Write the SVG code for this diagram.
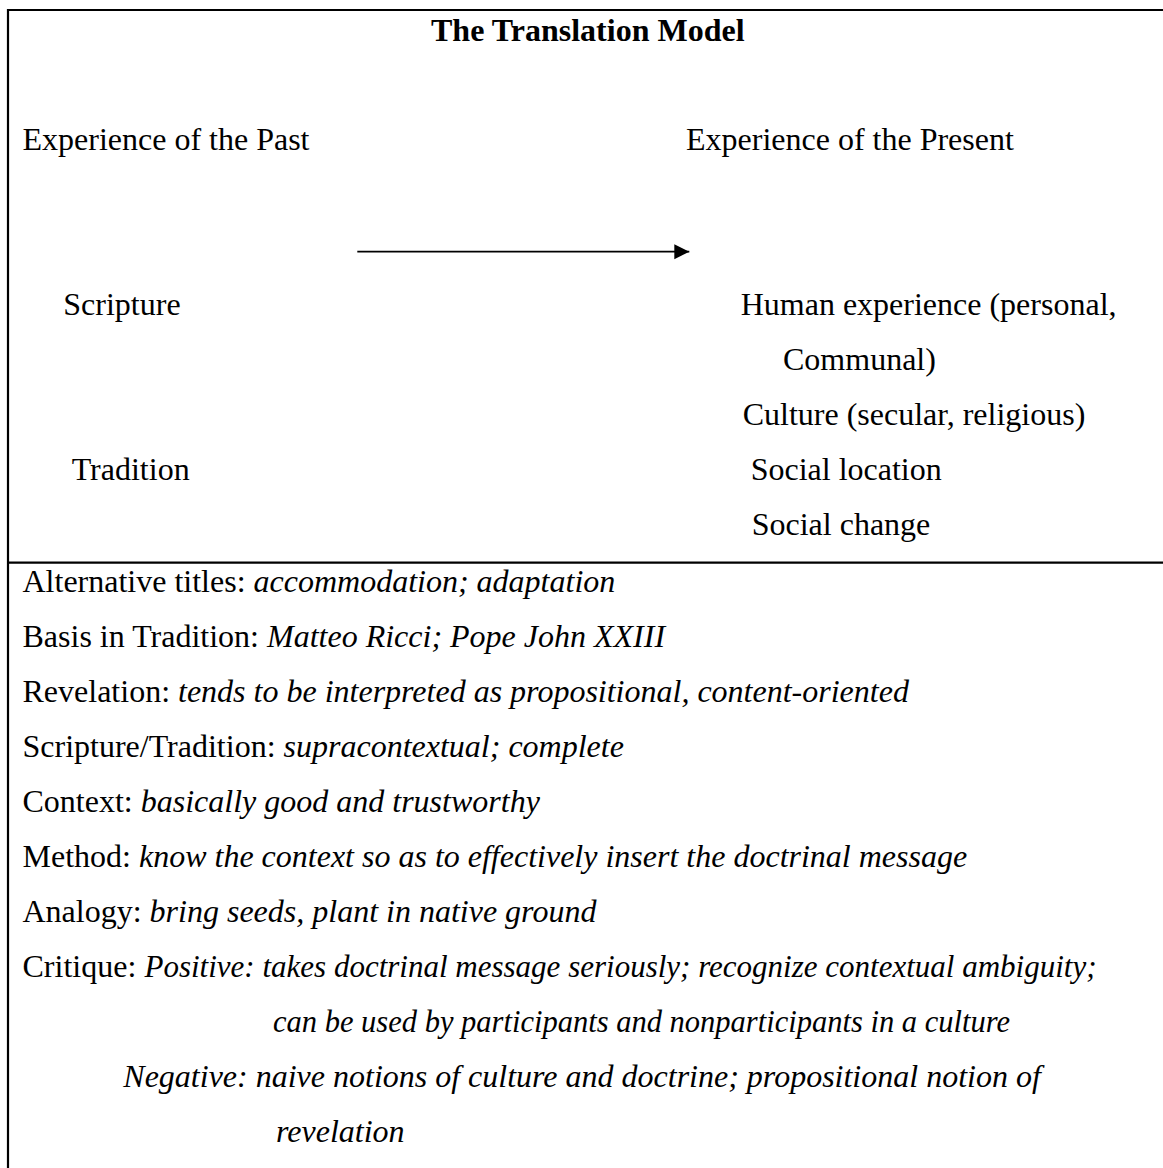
<svg xmlns="http://www.w3.org/2000/svg" width="1163" height="1168" viewBox="0 0 1163 1168">
<style>
text{font-family:"Liberation Serif","Times New Roman",serif;font-size:32px;fill:#000}
.b{font-weight:bold}
.i{font-style:italic}
.frame{stroke:#000;stroke-width:2.2;fill:none}
.conn{stroke:#000;stroke-width:1.8;fill:none}
</style>
<defs>
<marker id="ah" markerUnits="userSpaceOnUse" markerWidth="16" markerHeight="16" refX="15" refY="7.5" orient="auto">
<path d="M0,0 L15,7.5 L0,15 Z" fill="#000"/>
</marker>
</defs>
<rect width="1163" height="1168" fill="#fff"/>
<g id="frame">
<line class="frame" x1="8" y1="10" x2="1163" y2="10"/>
<line class="frame" x1="8" y1="9" x2="8" y2="1168"/>
<line class="frame" x1="8" y1="562.7" x2="1163" y2="562.7"/>
</g>
<g id="title"><text class="b" x="431" y="41">The Translation Model</text></g>
<g id="past"><text x="22.5" y="150">Experience of the Past</text></g>
<g id="present"><text x="686" y="150">Experience of the Present</text></g>
<g id="scripture"><text x="63.3" y="315">Scripture</text></g>
<g id="tradition"><text x="71.7" y="480">Tradition</text></g>
<g id="human"><text x="740.7" y="315">Human experience (personal,</text><text x="783" y="370">Communal)</text></g>
<g id="culture"><text x="742.7" y="425">Culture (secular, religious)</text></g>
<g id="location"><text x="750.7" y="480">Social location</text></g>
<g id="change"><text x="751.7" y="535">Social change</text></g>
<g id="connectors">
<line class="conn" x1="357.3" y1="251.7" x2="689.3" y2="251.7" marker-end="url(#ah)"/>
</g>
<g id="details">
<text x="22.5" y="592">Alternative titles: <tspan class="i">accommodation; adaptation</tspan></text>
<text x="22.5" y="647">Basis in Tradition: <tspan class="i">Matteo Ricci; Pope John XXIII</tspan></text>
<text x="22.5" y="702">Revelation: <tspan class="i">tends to be interpreted as propositional, content-oriented</tspan></text>
<text x="22.5" y="757">Scripture/Tradition: <tspan class="i">supracontextual; complete</tspan></text>
<text x="22.5" y="812">Context: <tspan class="i">basically good and trustworthy</tspan></text>
<text x="22.5" y="867">Method: <tspan class="i">know the context so as to effectively insert the doctrinal message</tspan></text>
<text x="22.5" y="922">Analogy: <tspan class="i">bring seeds, plant in native ground</tspan></text>
<text x="22.5" y="977">Critique:</text>
<text class="i" x="144.5" y="977" textLength="952" lengthAdjust="spacingAndGlyphs">Positive: takes doctrinal message seriously; recognize contextual ambiguity;</text>
<text class="i" x="273" y="1032" textLength="737" lengthAdjust="spacingAndGlyphs">can be used by participants and nonparticipants in a culture</text>
<text class="i" x="123.3" y="1087">Negative: naive notions of culture and doctrine; propositional notion of</text>
<text class="i" x="276" y="1142">revelation</text>
</g>
</svg>
